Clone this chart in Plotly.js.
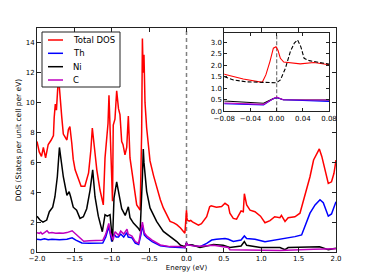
<!DOCTYPE html>
<html><head><meta charset="utf-8">
<script src="https://cdn.plot.ly/plotly-3.0.1.min.js"></script>
<style>html,body{margin:0;padding:0;background:#fff}#chart{width:374px;height:280px}</style>
</head><body><div id="chart"></div>
<script>
// ---- data ----
var seriesNames = ['Total DOS', 'Th', 'Ni', 'C'];
var seriesColors = ['#ff0000', '#0000ff', '#000000', '#bf00bf'];

var energyTotal = [-2.00,-1.97,-1.94,-1.915,-1.885,-1.85,-1.81,-1.78,-1.77,-1.755,-1.74,-1.73,-1.715,-1.70,-1.69,-1.67,-1.648,-1.625,-1.60,-1.58,-1.56,-1.535,-1.515,-1.49,-1.45,-1.41,-1.36,-1.31,-1.28,-1.26,-1.233,-1.20,-1.157,-1.113,-1.09,-1.068,-1.05,-1.037,-1.01,-0.99,-0.98,-0.957,-0.934,-0.91,-0.89,-0.867,-0.85,-0.823,-0.80,-0.778,-0.756,-0.71,-0.666,-0.62,-0.60,-0.59,-0.58,-0.569,-0.555,-0.533,-0.488,-0.44,-0.40,-0.35,-0.31,-0.26,-0.22,-0.17,-0.13,-0.08,-0.051,-0.022,-0.0165,-0.0103,-0.005,-0.001,0.002,0.0057,0.0108,0.036,0.057,0.08,0.16,0.20,0.27,0.31,0.33,0.40,0.47,0.515,0.56,0.58,0.626,0.67,0.73,0.76,0.774,0.805,0.85,0.916,0.99,1.05,1.117,1.18,1.25,1.27,1.318,1.36,1.45,1.518,1.585,1.652,1.70,1.74,1.777,1.81,1.84,1.897,1.94,1.973,2.00];
var dosTotal = [7.4,6.7,6.4,7.0,6.3,7.2,7.5,7.8,9.0,9.9,9.5,10.2,11.6,11.0,10.5,9.1,7.9,7.7,7.5,8.2,8.4,7.3,6.2,5.5,4.9,4.4,4.4,5.3,6.8,8.3,7.05,5.5,4.15,3.15,6.3,7.4,8.6,10.5,6.0,3.4,8.5,8.9,10.8,9.6,9.2,7.4,7.2,6.5,7.0,9.1,6.3,4.5,3.15,2.8,8.0,14.3,12.0,13.2,10.0,8.3,6.1,5.1,4.3,3.5,2.95,2.4,2.05,1.95,1.83,1.61,1.40,1.26,1.58,2.16,2.74,2.8,2.65,2.3,2.14,2.06,2.12,2.02,1.8,1.9,2.36,3.03,3.1,3.0,3.05,3.26,3.1,2.6,2.25,2.2,2.75,2.7,3.9,3.15,2.8,2.7,2.4,1.96,2.1,2.36,2.3,2.45,2.05,2.3,2.36,2.6,3.8,5.04,6.16,6.6,6.9,6.4,5.7,4.6,4.7,5.27,6.16];

var energyTh = [-2.00,-1.95,-1.90,-1.85,-1.80,-1.70,-1.60,-1.53,-1.48,-1.40,-1.30,-1.20,-1.12,-1.08,-1.04,-1.02,-1.00,-0.97,-0.94,-0.91,-0.88,-0.84,-0.80,-0.78,-0.73,-0.685,-0.64,-0.608,-0.59,-0.565,-0.53,-0.46,-0.35,-0.22,-0.08,-0.02,-0.005,0.0,0.01,0.08,0.18,0.27,0.337,0.40,0.515,0.56,0.626,0.73,0.774,0.805,0.916,1.05,1.18,1.318,1.45,1.54,1.585,1.652,1.72,1.786,1.83,1.897,1.94,2.00];
var dosTh = [0.85,0.82,0.88,0.82,0.85,0.82,0.85,0.95,0.8,0.6,0.58,0.6,0.6,1.0,1.7,1.2,0.7,1.2,1.0,1.0,1.2,1.0,1.3,1.0,0.95,0.6,0.5,1.2,1.8,1.15,0.95,0.7,0.42,0.33,0.33,0.28,0.55,0.6,0.5,0.43,0.36,0.58,0.8,0.85,0.9,0.85,0.7,0.8,1.07,0.9,0.85,0.69,0.8,0.87,1.03,1.14,1.7,2.6,3.15,3.5,3.3,2.4,2.55,3.37];

var energyNi = [-2.00,-1.96,-1.92,-1.87,-1.835,-1.79,-1.76,-1.728,-1.70,-1.683,-1.648,-1.60,-1.57,-1.55,-1.515,-1.47,-1.425,-1.38,-1.335,-1.29,-1.255,-1.224,-1.18,-1.126,-1.09,-1.06,-1.023,-0.99,-0.97,-0.934,-0.903,-0.867,-0.82,-0.778,-0.756,-0.71,-0.645,-0.62,-0.59,-0.578,-0.569,-0.533,-0.488,-0.40,-0.31,-0.22,-0.13,-0.08,-0.02,-0.005,0.0,0.01,0.08,0.18,0.36,0.49,0.58,0.73,0.774,0.805,0.99,1.25,1.318,1.36,1.70,1.78,1.897,2.00];
var dosNi = [2.4,2.14,2.0,2.14,2.7,3.0,3.7,5.04,7.0,6.4,5.04,3.8,4.04,3.7,3.0,2.8,2.25,2.36,2.9,4.15,5.5,3.7,2.4,1.36,2.5,2.4,2.5,0.7,3.6,4.7,3.9,2.9,2.45,3.03,2.3,1.94,1.6,1.4,5.0,6.9,6.0,4.06,2.95,2.05,1.38,1.05,0.7,0.45,0.35,0.55,0.6,0.5,0.47,0.3,0.5,0.45,0.3,0.4,0.7,0.45,0.3,0.3,0.16,0.3,0.3,0.35,0.16,0.25];

var energyC = [-2.00,-1.97,-1.95,-1.93,-1.90,-1.866,-1.84,-1.80,-1.75,-1.70,-1.65,-1.60,-1.53,-1.48,-1.42,-1.375,-1.30,-1.20,-1.12,-1.08,-1.04,-1.02,-0.983,-0.955,-0.91,-0.88,-0.84,-0.796,-0.78,-0.73,-0.685,-0.64,-0.608,-0.59,-0.565,-0.53,-0.46,-0.35,-0.22,-0.08,-0.02,-0.005,0.0,0.01,0.08,0.18,0.36,0.49,0.56,0.58,0.80,1.25,1.70,2.00];
var dosC = [1.29,1.25,1.32,1.2,1.3,1.43,1.28,1.3,1.25,1.28,1.25,1.3,1.42,1.2,0.9,0.72,0.75,0.75,0.78,1.2,1.92,1.3,0.8,1.36,1.12,1.4,1.2,1.52,1.2,1.06,0.7,0.58,1.4,2.0,1.3,1.06,0.8,0.47,0.36,0.36,0.3,0.55,0.62,0.5,0.42,0.38,0.45,0.35,0.3,0.15,0.15,0.1,0.18,0.22];

// dashed reference curve in the inset
var energyRef = [-0.08,-0.066,-0.046,-0.02,0.0,0.0057,0.0134,0.021,0.027,0.032,0.037,0.042,0.05,0.065,0.08];
var dosRef = [1.5,1.36,1.28,1.24,1.24,1.36,1.87,2.6,2.96,3.1,2.8,2.3,2.2,2.12,2.05];

var mainXTicks = [-2.0,-1.5,-1.0,-0.5,0.0,0.5,1.0,1.5,2.0];
var mainYTicks = [0,2,4,6,8,10,12,14];
var insetXTicks = [-0.08,-0.04,0.0,0.04,0.08];
var insetYTicks = [0.0,0.5,1.0,1.5,2.0,2.5,3.0];

// ---- figure ----
var F = 'DejaVu Sans';
var W = 374, H = 280, ML = 37, MR = 38, MT = 28, MB = 28;
var PW = W - ML - MR, PH = H - MT - MB;
function px2x(p){ return (p - ML) / PW; }
function px2y(p){ return (H - MB - p) / PH; }

var xs = [energyTotal, energyTh, energyNi, energyC];
var ys = [dosTotal, dosTh, dosNi, dosC];
var traces = [];
for (var i = 0; i < 4; i++) {
  traces.push({x: xs[i], y: ys[i], type: 'scatter', mode: 'lines', name: seriesNames[i],
    line: {color: seriesColors[i], width: 1.5}, xaxis: 'x', yaxis: 'y', hoverinfo: 'skip'});
}
// inset
traces.push({x: energyTotal, y: dosTotal, type: 'scatter', mode: 'lines', line: {color: seriesColors[0], width: 1.1}, xaxis: 'x2', yaxis: 'y2'});
traces.push({x: energyRef, y: dosRef, type: 'scatter', mode: 'lines', line: {color: '#000', width: 1.1, dash: '4px,2px'}, xaxis: 'x2', yaxis: 'y2'});
traces.push({x: energyNi, y: dosNi, type: 'scatter', mode: 'lines', line: {color: seriesColors[2], width: 1.1}, xaxis: 'x2', yaxis: 'y2'});
traces.push({x: energyTh, y: dosTh, type: 'scatter', mode: 'lines', line: {color: seriesColors[1], width: 1.1}, xaxis: 'x2', yaxis: 'y2'});
traces.push({x: energyC, y: dosC, type: 'scatter', mode: 'lines', line: {color: seriesColors[3], width: 1.1}, xaxis: 'x2', yaxis: 'y2'});

var axCommon = {showgrid: false, zeroline: false, showline: true, linecolor: '#222', linewidth: 1,
  mirror: 'ticks', ticks: 'inside', ticklen: 4, tickcolor: '#222', tickwidth: 1,
  tickfont: {family: F, size: 7, color: '#000'}, fixedrange: true};

var shapes = [
  {type: 'line', xref: 'x', yref: 'paper', x0: 0, x1: 0, y0: 0, y1: 1, layer: 'below',
   line: {color: '#808080', width: 1.5, dash: '4px,3px'}},
  {type: 'line', xref: 'x2', yref: 'y2', x0: 0, x1: 0, y0: 0, y1: 3.4, layer: 'below',
   line: {color: '#808080', width: 1.3, dash: '4px,2px'}},
  // legend box
  {type: 'rect', xref: 'paper', yref: 'paper', x0: px2x(42), x1: px2x(120), y0: px2y(87), y1: px2y(32),
   fillcolor: '#fff', line: {color: '#222', width: 1}, layer: 'above'}
];
var annotations = [];
var rowPx = [40, 53.3, 66.7, 80];
for (var k = 0; k < 4; k++) {
  shapes.push({type: 'line', xref: 'paper', yref: 'paper', x0: px2x(48), x1: px2x(63), y0: px2y(rowPx[k]), y1: px2y(rowPx[k]),
    line: {color: seriesColors[k], width: 1.5}, layer: 'above'});
  annotations.push({xref: 'paper', yref: 'paper', x: px2x(71), y: px2y(rowPx[k]), xanchor: 'left', yanchor: 'middle',
    text: seriesNames[k], showarrow: false, font: {family: F, size: 8.5, color: '#000'}});
}

var layout = {
  width: W, height: H, margin: {l: ML, r: MR, t: MT, b: MB, pad: 0},
  paper_bgcolor: '#fff', plot_bgcolor: '#fff', showlegend: false,
  xaxis: Object.assign({}, axCommon, {range: [-2, 2], tickvals: mainXTicks, tickformat: '.1f',
    title: {text: 'Energy (eV)', font: {family: F, size: 7, color: '#000'}, standoff: 2}}),
  yaxis: Object.assign({}, axCommon, {range: [0, 15], tickvals: mainYTicks, tickformat: 'd',
    title: {text: 'DOS (States per unit cell per eV)', font: {family: F, size: 7.5, color: '#000'}, standoff: 3}}),
  xaxis2: Object.assign({}, axCommon, {domain: [px2x(224.3), px2x(329)], anchor: 'y2', range: [-0.08, 0.08],
    tickvals: insetXTicks, tickformat: '.2f', ticklen: 3}),
  yaxis2: Object.assign({}, axCommon, {domain: [px2y(111.3), px2y(33)], anchor: 'x2', range: [0, 3.4],
    tickvals: insetYTicks, tickformat: '.1f', ticklen: 3}),
  shapes: shapes, annotations: annotations
};
Plotly.newPlot('chart', traces, layout, {displayModeBar: false, staticPlot: true});
</script></body></html>
